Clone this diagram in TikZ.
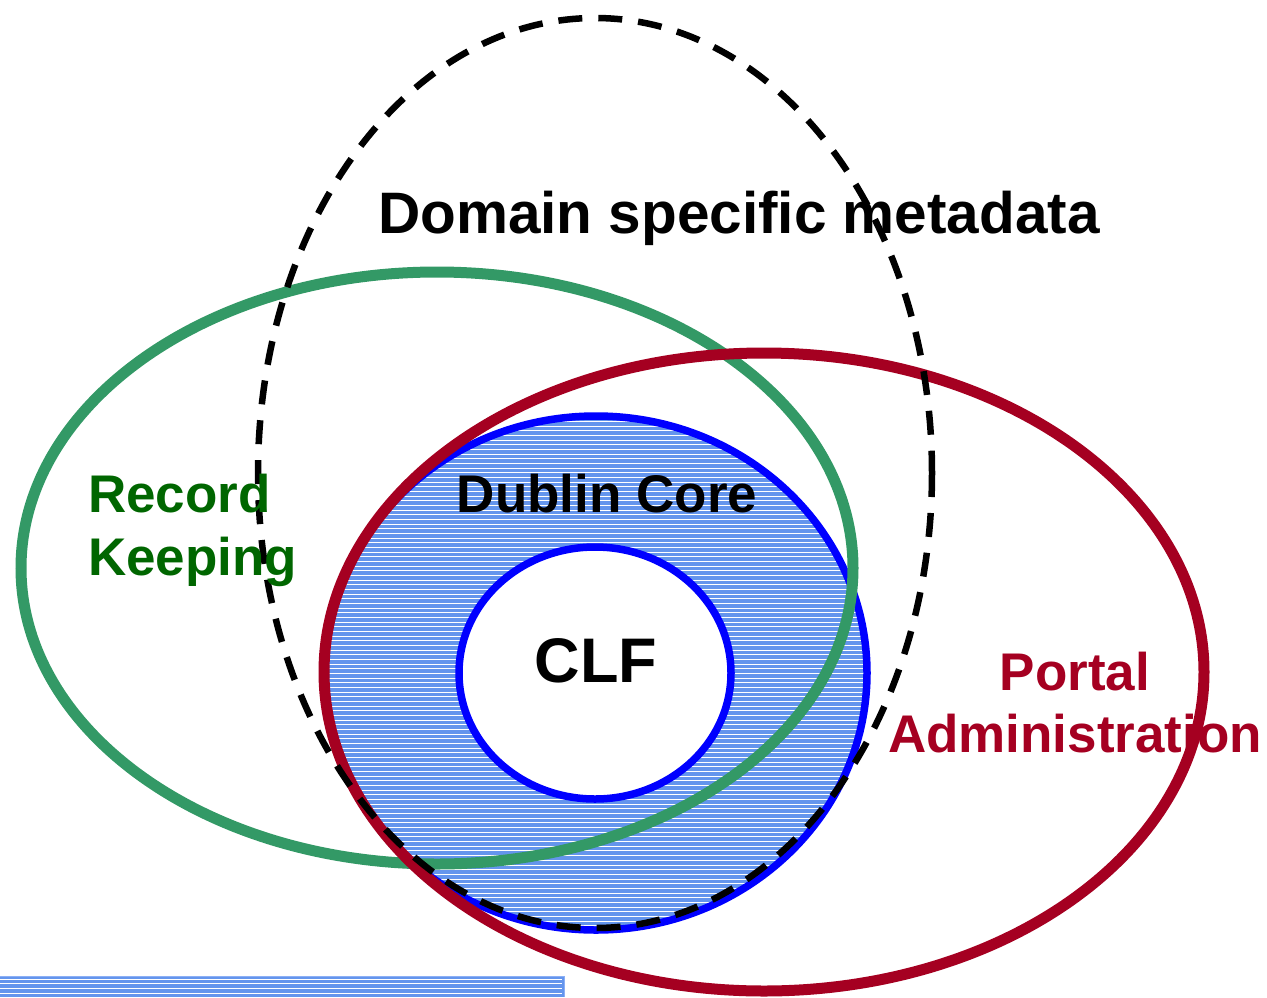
\documentclass[tikz,border=0pt]{standalone}
\usepackage{fontspec}
\setmainfont{Liberation Sans}
\definecolor{hatchblue}{RGB}{100,149,237}
\definecolor{rkgreen}{RGB}{51,153,102}
\definecolor{rktext}{RGB}{0,102,0}
\definecolor{pared}{RGB}{165,0,33}
\definecolor{dcblue}{RGB}{0,0,255}
\definecolor{barline}{RGB}{140,175,245}
\tikzset{
  lbl/.style={inner sep=0pt, font=\fontsize{53}{62}\selectfont\bfseries},
  hatchlines/.style={white, line width=1pt},
}
\begin{document}
\begin{tikzpicture}[x=1pt,y=-1pt]
\useasboundingbox (0,0) rectangle (1267,997);
% Dublin Core hatched ellipse
\begin{scope}
  \clip (596,673) ellipse [x radius=271, y radius=257];
  \fill[hatchblue] (320,410) rectangle (870,935);
  \foreach \yy in {0,...,115} {
    \draw[hatchlines] (320,{412+4.67*\yy}) -- (870,{412+4.67*\yy});
  }
\end{scope}
\draw[dcblue, line width=7.5pt] (596,673) ellipse [x radius=271, y radius=257];
% CLF ellipse
\draw[dcblue, line width=7.5pt, fill=white] (595,673) ellipse [x radius=136, y radius=126];
% legend bar
\begin{scope}
  \clip (0,976) rectangle (565,997);
  \fill[hatchblue] (0,976) rectangle (565,997);
  \foreach \yy in {0,...,4} {
    \draw[hatchlines] (0,{979.3+4.67*\yy}) -- (562,{979.3+4.67*\yy});
  }
\end{scope}
\draw[barline, line width=1pt] (0,976.5) -- (564.5,976.5) -- (564.5,997);
% Record Keeping
\draw[rkgreen, line width=11pt] (437,568) ellipse [x radius=416, y radius=296];
% Portal Administration
\draw[pared, line width=11pt] (764,672) ellipse [x radius=440, y radius=319];
% Domain specific
\draw[black, line width=6.5pt, dash pattern=on 24pt off 16pt] (595,473) ellipse [x radius=337, y radius=455];
% labels
\node[lbl, font=\fontsize{58.5}{66}\selectfont\bfseries, anchor=base] (dom) at (739,233) {Domain specific metadata};
\node[lbl, anchor=base] (dc) at (607,512) {Dublin Core};
\node[lbl, font=\fontsize{63}{70}\selectfont\bfseries, anchor=base] (clf) at (596,682) {CLF};
\node[lbl, text=rktext, anchor=base west] (rk1) at (88,512) {Record};
\node[lbl, text=rktext, anchor=base west] (rk2) at (88,575) {Keeping};
\node[lbl, text=pared, anchor=base] (pa1) at (1075,690) {Portal};
\node[lbl, text=pared, anchor=base] (pa2) at (1075,752) {Administration};
\end{tikzpicture}
\end{document}
